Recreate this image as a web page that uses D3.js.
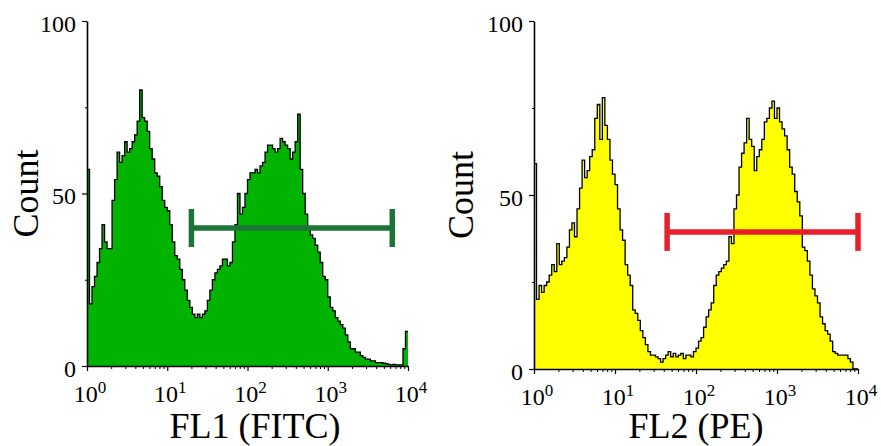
<!DOCTYPE html>
<html>
<head>
<meta charset="utf-8">
<script src="https://cdn.jsdelivr.net/npm/d3@7/dist/d3.min.js"></script>
<style>
  html, body { margin: 0; padding: 0; background: #fff; }
  svg { display: block; }
  text { font-family: "Liberation Serif", "Times New Roman", serif; fill: #000; }
</style>
</head>
<body>
<svg id="chart" width="881" height="446"></svg>
<script>
// ---------- DATA ----------
// Log channel range (4 decades) split into 128 equal-width log bins.
const decadeTicks = [1, 10, 100, 1000, 10000];
const decadeExponents = ["0", "1", "2", "3", "4"];
const countTicks = [0, 50, 100];
const countMinorTicks = [25, 75];

// FL1 (FITC) histogram counts, 128 bins
const fl1Counts = [
  57, 18, 23, 26, 30, 34, 41, 36, 34, 34,
  48, 54, 62, 59, 61, 65, 62, 63, 65, 67,
  71, 80, 72, 71, 68, 63, 60, 56, 55, 52,
  48, 46, 45, 41, 36, 32, 31, 28, 25, 22,
  19, 17, 15, 14, 15, 14, 15, 16, 19, 22,
  25, 27, 28, 29, 31, 31, 29, 30, 36, 41,
  50, 44, 46, 50, 54, 56, 56, 57, 56, 58,
  59, 62, 64, 64, 63, 62, 63, 66, 65, 64,
  63, 60, 62, 65, 73, 57, 50, 44, 40, 38,
  37, 35, 33, 30, 26, 25, 20, 17, 16, 14,
  13, 12, 11, 9, 7, 5, 5, 4, 4, 3,
  2.5, 2, 2, 1.5, 1.5, 1, 1, 1, 0.8, 0.7,
  0.5, 0.3, 0.5, 0.3, 0.3, 0.3, 5, 10
];

// FL2 (PE) histogram counts, 128 bins
const fl2Counts = [
  59, 20, 24, 22, 24, 25, 27, 30, 28, 36,
  30, 31, 32, 35, 40, 42, 38, 46, 52, 60,
  55, 57, 61, 63, 72, 76, 66, 78, 70, 66,
  60, 56, 53, 46, 40, 37, 30, 27, 24, 17,
  16, 14, 11, 9, 7, 5, 4, 4, 3.5, 3,
  2, 3, 4, 5, 3.5, 4.5, 3.5, 4, 4.5, 3,
  4, 4, 3.5, 5, 6, 8, 9, 12, 15, 17,
  19, 24, 27, 28, 29, 30, 31, 38, 36, 46,
  50, 58, 62, 65, 72, 66, 64, 57, 61, 63,
  66, 71, 72, 75, 77, 72, 75, 71, 69, 67,
  63, 58, 56, 51, 48, 44, 35, 34, 31, 27,
  23, 21, 19, 15, 13, 11, 10, 8, 5, 4.5,
  4, 4, 4, 4, 3, 2, 0, 0
];

// Gates: [lower channel, upper channel, count level]
const fl1Gate = [20, 6370, 40];
const fl2Gate = [44, 10000, 39.4];

const axisTitles = ["FL1 (FITC)", "FL2 (PE)"];
const countTitle = "Count";

// ---------- LAYOUT / STYLE ----------
const panels = [
  { counts: fl1Counts, gate: fl1Gate, title: axisTitles[0],
    xr: [87, 408], yr: [366, 21], fill: "#00b300", gateColor: "#1d7437",
    countX: 38, titleX: 255 },
  { counts: fl2Counts, gate: fl2Gate, title: axisTitles[1],
    xr: [534, 858], yr: [369, 21], fill: "#ffff00", gateColor: "#e8202a",
    countX: 473, titleX: 696 }
];

const svg = d3.select("#chart");

panels.forEach(p => {
  const x = d3.scaleLog().domain([decadeTicks[0], decadeTicks[decadeTicks.length - 1]]).range(p.xr);
  const y = d3.scaleLinear().domain([0, 100]).range(p.yr);
  const n = p.counts.length;
  const lo = Math.log10(decadeTicks[0]), hi = Math.log10(decadeTicks[decadeTicks.length - 1]);
  const edge = i => Math.pow(10, lo + (hi - lo) * i / n);
  const pts = p.counts.map((v, i) => ({ x: edge(i), v }));
  pts.push({ x: edge(n), v: p.counts[n - 1] });

  const g = svg.append("g");

  // histogram fill
  g.append("path")
    .datum(pts)
    .attr("d", d3.area().x(d => x(d.x)).y0(y(0)).y1(d => y(d.v)).curve(d3.curveStepAfter))
    .attr("fill", p.fill);
  // histogram outline
  g.append("path")
    .datum(pts)
    .attr("d", d3.line().x(d => x(d.x)).y(d => y(d.v)).curve(d3.curveStepAfter))
    .attr("fill", "none")
    .attr("stroke", "#000")
    .attr("stroke-width", 1.3);

  // x axis: minor ticks
  const minor = [];
  for (let k = 0; k < decadeTicks.length - 1; k++)
    for (let m = 2; m <= 9; m++) minor.push(decadeTicks[k] * m);
  g.append("g")
    .attr("transform", `translate(0,${y(0)})`)
    .call(d3.axisBottom(x).tickValues(minor).tickSize(3).tickSizeOuter(0).tickFormat(""))
    .call(a => a.select(".domain").remove())
    .call(a => a.selectAll("line").attr("stroke", "#000").attr("stroke-width", 1));
  // x axis: major
  const xa = g.append("g")
    .attr("transform", `translate(0,${y(0)})`)
    .call(d3.axisBottom(x).tickValues(decadeTicks).tickSize(5).tickSizeOuter(0).tickFormat(""));
  xa.select(".domain").attr("stroke", "#000").attr("stroke-width", 1.6);
  xa.selectAll("line").attr("stroke", "#000").attr("stroke-width", 1.2);

  // x tick labels 10^n
  decadeTicks.forEach((t, i) => {
    const tx = g.append("text")
      .attr("x", x(t) + 3)
      .attr("y", y(0) + 36)
      .attr("text-anchor", "middle")
      .style("font-size", "24px");
    tx.append("tspan").text("10");
    tx.append("tspan").attr("dy", -9).style("font-size", "17px").text(decadeExponents[i]);
  });

  // y axis minor
  g.append("g")
    .attr("transform", `translate(${p.xr[0]},0)`)
    .call(d3.axisLeft(y).tickValues(countMinorTicks).tickSize(2).tickSizeOuter(0).tickFormat(""))
    .call(a => a.select(".domain").remove())
    .call(a => a.selectAll("line").attr("stroke", "#000").attr("stroke-width", 1));
  // y axis major
  const ya = g.append("g")
    .attr("transform", `translate(${p.xr[0]},0)`)
    .call(d3.axisLeft(y).tickValues(countTicks).tickSize(5).tickSizeOuter(0).tickPadding(6));
  ya.select(".domain").attr("stroke", "#000").attr("stroke-width", 1.6);
  ya.selectAll("line").attr("stroke", "#000").attr("stroke-width", 1.2);
  ya.selectAll("text")
    .attr("dy", "0.42em")
    .style("font-size", "24px")
    .style("font-family", "'Liberation Serif', 'Times New Roman', serif")
    .attr("fill", "#000");

  // gate
  const [gl, gh, gv] = p.gate;
  const gg = g.append("g").attr("stroke", p.gateColor).attr("stroke-width", 5.5);
  gg.append("line").attr("x1", x(gl)).attr("x2", x(gh)).attr("y1", y(gv)).attr("y2", y(gv));
  gg.append("line").attr("x1", x(gl)).attr("x2", x(gl)).attr("y1", y(gv) - 19).attr("y2", y(gv) + 19);
  gg.append("line").attr("x1", x(gh)).attr("x2", x(gh)).attr("y1", y(gv) - 19).attr("y2", y(gv) + 19);

  // titles
  g.append("text")
    .attr("transform", `translate(${p.countX},${(p.yr[0] + p.yr[1]) / 2}) rotate(-90)`)
    .attr("text-anchor", "middle")
    .style("font-size", "36px")
    .text(countTitle);
  g.append("text")
    .attr("x", p.titleX)
    .attr("y", 438)
    .attr("text-anchor", "middle")
    .style("font-size", "36px")
    .text(p.title);
});
</script>
</body>
</html>
